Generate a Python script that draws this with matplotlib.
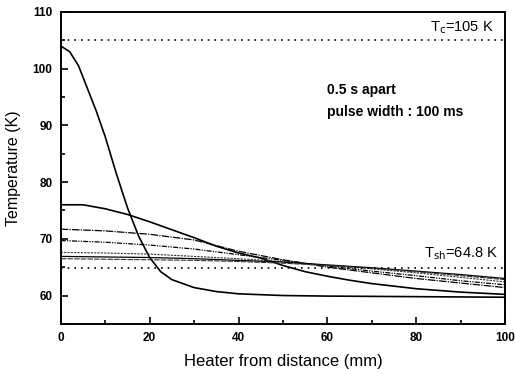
import numpy as np
import matplotlib
matplotlib.use('Agg')
import matplotlib.pyplot as plt
from matplotlib.ticker import MultipleLocator

plt.rcParams['font.family'] = ['Liberation Sans', 'DejaVu Sans']

# curve data (x in mm, T in K)
x_steep = [0, 2, 4, 6, 8, 10, 12.5, 15, 17.5, 20, 22.5, 25, 30, 35, 40, 50, 60, 80, 100]
t_steep = [104, 103, 100.5, 96.5, 92.5, 88, 81.5, 75.5, 70.5, 66.7, 64.2, 62.8, 61.4, 60.7, 60.3, 60.0, 59.9, 59.8, 59.7]

x_76 = [0, 5, 10, 15, 20, 25, 30, 35, 40, 45, 50, 55, 60, 65, 70, 80, 90, 100]
t_76 = [76, 76, 75.3, 74.3, 73, 71.6, 70.2, 68.7, 67.5, 66.6, 65.3, 64.2, 63.4, 62.7, 62.1, 61.2, 60.6, 60.2]

x_grid = [0, 10, 20, 30, 40, 50, 60, 70, 80, 90, 100]
t_72 = [71.7, 71.4, 70.8, 69.8, 67.8, 66.3, 65.0, 64.0, 63.0, 62.2, 61.4]
t_70 = [69.7, 69.4, 68.9, 68.2, 67.2, 66.2, 65.2, 64.3, 63.5, 62.6, 61.9]
t_68 = [67.6, 67.5, 67.3, 66.9, 66.5, 66.0, 65.3, 64.7, 64.0, 63.2, 62.4]
t_67 = [66.9, 66.8, 66.7, 66.5, 66.2, 65.9, 65.4, 64.9, 64.3, 63.7, 63.0]
t_66 = [66.5, 66.4, 66.3, 66.2, 66.0, 65.7, 65.3, 64.8, 64.2, 63.5, 62.8]

t_c = 105
t_sh = 64.8

fig = plt.figure(figsize=(5.15, 3.74), dpi=100)
ax = fig.add_axes([0.118, 0.134, 0.863, 0.834])

ax.plot(x_steep, t_steep, color='black', lw=1.2)
ax.plot(x_76, t_76, color='black', lw=1.2)
ax.plot(x_grid, t_72, color='black', lw=0.9, ls=(0, (6, 1, 1, 1)))
ax.plot(x_grid, t_70, color='black', lw=0.9, ls=(0, (4, 1, 1, 1, 1, 1)))
ax.plot(x_grid, t_68, color='#333333', lw=0.8, ls=(0, (2, 1)))
ax.plot(x_grid, t_67, color='black', lw=0.9)
ax.plot(x_grid, t_66, color='#333333', lw=0.8, ls=(0, (5, 1)))

# reference temperatures
ax.axhline(t_c, color='black', lw=1.2, ls=(0, (1, 3)))
ax.axhline(t_sh, color='black', lw=1.2, ls=(0, (1, 3)))

ax.text(97.5, 107.3, r'T$_\mathrm{c}$=105 K', ha='right', va='center', fontsize=10.5)
ax.text(98.5, 67.4, r'T$_\mathrm{sh}$=64.8 K', ha='right', va='center', fontsize=10.5)
ax.text(60, 96.2, '0.5 s apart', fontsize=10, fontweight='bold', va='center')
ax.text(60, 92.3, 'pulse width : 100 ms', fontsize=10, fontweight='bold', va='center')

ax.set_xlim(0, 100)
ax.set_ylim(55, 110)
ax.xaxis.set_major_locator(MultipleLocator(20))
ax.xaxis.set_minor_locator(MultipleLocator(10))
ax.yaxis.set_major_locator(MultipleLocator(10))
ax.yaxis.set_minor_locator(MultipleLocator(5))
ax.set_yticks([60, 70, 80, 90, 100, 110])
ax.tick_params(which='both', direction='in', top=False, right=False, width=1.2)
ax.tick_params(which='major', length=5, labelsize=8.5, pad=6)
ax.tick_params(which='minor', length=3)
for lab in ax.get_xticklabels() + ax.get_yticklabels():
    lab.set_fontweight('bold')
for s in ax.spines.values():
    s.set_linewidth(1.4)

ax.set_xlabel('Heater from distance (mm)', fontsize=12, labelpad=7)
ax.set_ylabel('Temperature (K)', fontsize=11.5, labelpad=8)

fig.savefig('out.png', dpi=100)
